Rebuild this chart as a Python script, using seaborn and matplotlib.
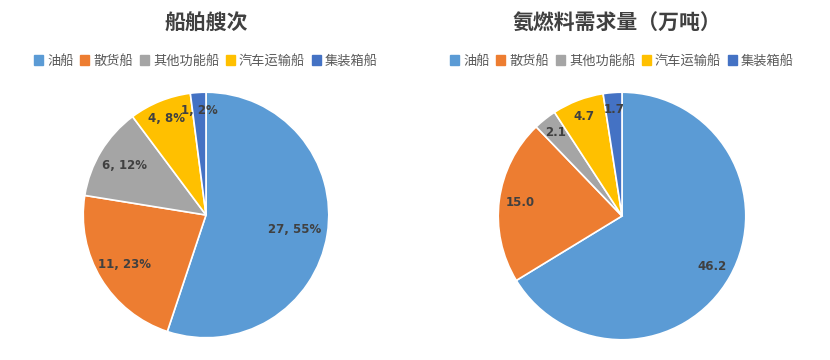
import numpy as np
import matplotlib
matplotlib.use('Agg')
import matplotlib.pyplot as plt
import matplotlib.patches as mpatches
import seaborn as sns

categories = ['油船', '散货船', '其他功能船', '汽车运输船', '集装箱船']
ship_counts = [27, 11, 6, 4, 1]
ship_pct = [55, 23, 12, 8, 2]
ammonia_demand = [46.2, 15.0, 2.1, 4.7, 1.7]

sns.set_theme(style='white')
plt.rcParams['font.family'] = ['Noto Sans CJK SC', 'DejaVu Sans']
colors = sns.color_palette(['#5B9BD5', '#ED7D31', '#A5A5A5', '#FFC000', '#4472C4'])

TEXT = '#404040'
LEG = '#595959'

fig = plt.figure(figsize=(8.3, 3.6), dpi=100)


def draw_pie(rect, values, labels, dists):
    ax = fig.add_axes(rect)
    wedges, _ = ax.pie(values, colors=colors, startangle=90, counterclock=False,
                       radius=1, wedgeprops=dict(edgecolor='white', linewidth=1.2))
    for w, lab, d in zip(wedges, labels, dists):
        ang = np.deg2rad((w.theta1 + w.theta2) / 2)
        ax.text(d * np.cos(ang), d * np.sin(ang), lab, ha='center', va='center',
                fontsize=8.5, fontweight='bold', color=TEXT, family=['DejaVu Sans'])
    ax.set_xlim(-1.01, 1.01)
    ax.set_ylim(-1.01, 1.01)
    ax.set_aspect('equal')
    ax.axis('off')
    return ax


# left pie: ship counts
labels1 = ['{}, {}%'.format(c, p) for c, p in zip(ship_counts, ship_pct)]
draw_pie([(206 - 124) / 830, (360 - 339) / 360, 248 / 830, 248 / 360],
         ship_counts, labels1, [0.73, 0.78, 0.78, 0.85, 0.85])

# right pie: ammonia demand
labels2 = ['{:.1f}'.format(v) for v in ammonia_demand]
draw_pie([(622 - 125) / 830, (360 - 341) / 360, 250 / 830, 250 / 360],
         ammonia_demand, labels2, [0.83, 0.83, 0.86, 0.86, 0.86])

# titles
fig.text(206 / 830, 1 - 23 / 360, '船舶艘次', ha='center', va='center',
         fontsize=15, fontweight='bold', color=TEXT)
fig.text(617 / 830, 1 - 23 / 360, '氨燃料需求量（万吨）', ha='center', va='center',
         fontsize=15, fontweight='bold', color=TEXT)

# legends
handles = [mpatches.Patch(color=c, label=l) for c, l in zip(colors, categories)]
for cx in [206, 622]:
    fig.legend(handles=handles, loc='center', bbox_to_anchor=(cx / 830, 1 - 61 / 360),
               ncol=5, frameon=False, fontsize=9.5, handlelength=0.7, handleheight=0.7,
               handletextpad=0.3, columnspacing=0.5, labelcolor=LEG)

fig.savefig('out.png', dpi=100)
